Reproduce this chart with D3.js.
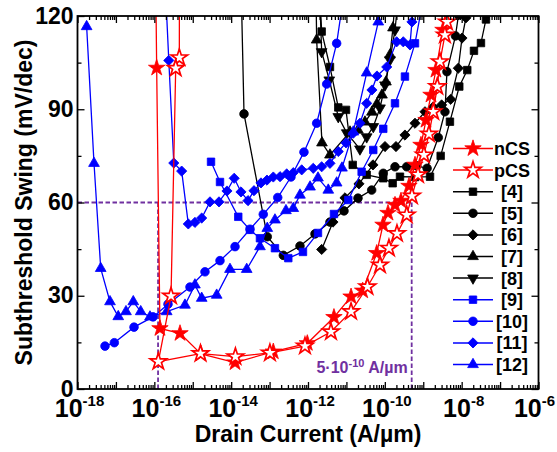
<!DOCTYPE html>
<html>
<head>
<meta charset="utf-8">
<script src="https://cdn.jsdelivr.net/npm/d3@7"></script>
<style>
  body { margin: 0; background: #fff; }
  text { font-family: "Liberation Sans", Arial, sans-serif; font-weight: bold; }
</style>
</head>
<body>
<div id="wrapper"></div>
<script>
// data: [drain current (A/um), subthreshold swing (mV/dec)]
const nCS = [[1.07e-16,140],[1.15e-16,103.3],[1.40e-16,19.5],[4.66e-16,17.9],[1.64e-15,11.3],[1.26e-14,8.5],[1.25e-13,12.0],[9.6e-13,14.7],[4.74e-12,23.1],[1.32e-11,29.7],[2.65e-11,31.6],[6.14e-11,43.7],[8.95e-11,52.8],[1.21e-10,56.6],[1.84e-10,59.2],[2.63e-10,60.5],[4.25e-10,65.3],[6.1e-10,72.1],[8.73e-10,78.5],[1.18e-9,86.5],[1.59e-9,94.6],[2.14e-9,102.6],[3.26e-9,115.5],[4.14e-9,125]]
const pCS = [[4.52e-16,140],[4.47e-16,106.6],[3.6e-16,103.2],[2.72e-16,29.9],[1.27e-16,8.8],[1.59e-15,11.4],[1.29e-14,10.4],[1.02e-13,11.6],[8.34e-13,13.8],[3.96e-12,18.4],[1.32e-11,24.9],[3.53e-11,32.9],[7.48e-11,39.9],[1.28e-10,45.3],[2.07e-10,50.0],[3.71e-10,56.0],[5.08e-10,62.1],[7.3e-10,68.9],[1.04e-9,75.3],[1.41e-9,82.0],[1.82e-9,89.2],[2.32e-9,97.3],[2.72e-9,105.3],[3.67e-9,113.9],[4.14e-9,118.1],[4.67e-9,125]]
const ref4 = [[2.05e-12,125],[2.27e-12,115.0],[3.73e-12,103.6],[6.14e-12,90.6],[9.75e-12,89.8],[1.46e-11,72.1],[3.37e-11,68.9],[9.1e-11,67.8],[1.6e-10,66.2],[2.48e-10,68.3],[6.1e-10,68.2],[1.5e-9,68.3],[2.84e-9,75.0],[4.95e-9,86.0],[8.67e-9,97.3],[1.4e-8,102.6],[2.09e-8,108.8],[3.18e-8,111.3],[4.29e-8,118.9],[5.14e-8,125]]
const ref5 = [[1.83e-14,128],[2.16e-14,88.5],[8.71e-14,49.0],[2.28e-13,43.0],[6.18e-13,46.0],[1.52e-12,49.9],[3.73e-12,53.7],[8.65e-12,57.3],[2.0e-11,61.4],[4.54e-11,64.0],[9.1e-11,69.4],[1.84e-10,71.5],[3.71e-10,71.5],[6.75e-10,71.8],[1.26e-9,71.0],[2.46e-9,80.9],[3.67e-9,89.2],[4.14e-9,102.1],[6.9e-9,113.6],[8.26e-9,120.3],[9.04e-9,125]]
const ref6 = [[2.27e-12,44.9],[4.47e-12,53.7],[9.18e-12,61.5],[2.12e-11,66.0],[4.91e-11,72.1],[1.01e-10,78.0],[1.95e-10,78.0],[3.34e-10,81.7],[6.1e-10,85.5],[1.11e-9,89.2],[1.79e-9,90.7],[3.01e-9,91.4],[5.18e-9,93.2],[8.17e-9,103.2],[1.02e-8,112.9],[1.29e-8,119.4],[1.46e-8,125]]
const ref7 = [[1.61e-12,128],[1.68e-12,112.3],[2.31e-12,79.2],[3.73e-12,75.3],[1.24e-11,82.7],[2.0e-11,83.3],[3.04e-11,85.9],[4.62e-11,89.1],[6.24e-11,91.7],[8.43e-11,94.6],[1.07e-10,98.8],[1.36e-10,107.5],[1.63e-10,116.2],[1.84e-10,125]]
const ref8 = [[1.99e-12,128],[2.27e-12,108.5],[3.58e-12,99.4],[6.14e-12,87.6],[1.02e-11,82.4],[2.25e-11,77.2],[3.37e-11,81.1],[5.0e-11,84.4],[7.48e-11,90.4],[1.01e-10,97.8],[1.36e-10,105.9],[1.84e-10,115.5],[2.2e-10,125]]
const ref9 = [[2.99e-15,73.1],[5.12e-15,66.6],[1.53e-14,55.4],[3.09e-14,51.2],[5.62e-14,48.5],[1.38e-13,45.3],[3.07e-13,42.1],[7.4e-13,44.1],[1.82e-12,50.2],[4.74e-12,56.3],[1.12e-11,60.8],[2.49e-11,69.9],[5.0e-11,76.9],[9.1e-11,83.7],[1.84e-10,91.9],[3.34e-10,100.5],[6.1e-10,111.2],[9.84e-10,125]]
const ref10 = [[5.2e-18,13.8],[9.08e-18,14.9],[2.96e-17,19.9],[9.23e-17,23.2],[2.27e-16,27.3],[8.47e-16,32.8],[2.08e-15,37.7],[5.12e-15,41.3],[1.26e-14,45.8],[3.09e-14,51.4],[6.85e-14,56.2],[1.63e-13,61.6],[3.6e-13,68.2],[7.85e-13,76.2],[1.68e-12,85.5],[3.06e-12,98.1],[5.57e-12,111.2],[8.13e-12,125]]
const ref11 = [[2.01e-16,125],[2.38e-16,105.7],[3.21e-16,72.7],[5.15e-16,70.1],[7.66e-16,53.1],[1.14e-15,53.6],[1.71e-15,55.0],[2.81e-15,60.2],[4.82e-15,60.2],[7.78e-15,63.7],[1.2e-14,67.8],[1.8e-14,63.4],[2.74e-14,60.6],[3.93e-14,63.8],[5.97e-14,66.3],[8.55e-14,67.2],[1.25e-13,68.2],[1.87e-13,68.3],[2.79e-13,69.2],[4.14e-13,69.6],[6.86e-13,70.5],[1.37e-12,71.0],[2.27e-12,71.5],[3.73e-12,72.6],[6.14e-12,76.4],[9.75e-12,79.2],[1.51e-11,82.3],[2.25e-11,85.5],[3.37e-11,91.9],[4.62e-11,96.2],[6.24e-11,100.7],[1.12e-10,103.6],[2.03e-10,111.7],[3.02e-10,111.7],[4.51e-10,110.7],[5.08e-10,118.1],[5.73e-10,125]]
const ref12 = [[1.73e-18,116.6],[2.69e-18,72.6],[4.02e-18,38.8],[7.01e-18,28.1],[1.15e-17,23.3],[1.83e-17,24.9],[2.83e-17,28.1],[4.42e-17,24.9],[7.71e-17,23.2],[2.1e-16,24.9],[6.28e-16,27.0],[1.14e-15,33.5],[1.71e-15,29.2],[4.2e-15,30.2],[9.31e-15,38.5],[2.54e-14,38.5],[5.62e-14,45.8],[8.71e-14,51.7],[1.38e-13,54.4],[2.67e-13,57.4],[4.14e-13,58.1],[6.18e-13,62.4],[1.13e-12,65.0],[1.82e-12,67.9],[3.37e-12,64.0],[5.57e-12,66.3],[7.66e-12,71.1],[1.51e-11,82.7],[3.37e-11,101.7],[6.75e-11,118.1],[7.94e-11,125]]

const xExponents = [-18, -16, -14, -12, -10, -8, -6]
const yTicks = [0, 30, 60, 90, 120]
const refCurrent = 5e-10     // right dashed marker
const leftDashCurrent = 1.25e-16
const refSwing = 60

// series styling, legend order
const series = [
  {name: "nCS",  data: nCS,  color: "#ff0000", shape: "star", open: false},
  {name: "pCS",  data: pCS,  color: "#ff0000", shape: "star", open: true},
  {name: "[4]",  data: ref4, color: "#000000", shape: "square"},
  {name: "[5]",  data: ref5, color: "#000000", shape: "circle"},
  {name: "[6]",  data: ref6, color: "#000000", shape: "diamond"},
  {name: "[7]",  data: ref7, color: "#000000", shape: "up"},
  {name: "[8]",  data: ref8, color: "#000000", shape: "down"},
  {name: "[9]",  data: ref9, color: "#0000ff", shape: "square"},
  {name: "[10]", data: ref10, color: "#0000ff", shape: "circle"},
  {name: "[11]", data: ref11, color: "#0000ff", shape: "diamond"},
  {name: "[12]", data: ref12, color: "#0000ff", shape: "up"},
]

const purple = "#7030a0"

let dimensions = {
  width: 557,
  height: 452,
  margin: {top: 16, right: 18.5, bottom: 63, left: 77.5},
}
dimensions.boundedWidth = dimensions.width - dimensions.margin.left - dimensions.margin.right
dimensions.boundedHeight = dimensions.height - dimensions.margin.top - dimensions.margin.bottom

const wrapper = d3.select("#wrapper")
  .append("svg")
    .attr("width", dimensions.width)
    .attr("height", dimensions.height)

const bounds = wrapper.append("g")
  .attr("transform", `translate(${dimensions.margin.left},${dimensions.margin.top})`)

const xScale = d3.scaleLog()
  .domain([1e-18, 1e-6])
  .range([0, dimensions.boundedWidth])

const yScale = d3.scaleLinear()
  .domain([0, 120])
  .range([dimensions.boundedHeight, 0])

bounds.append("clipPath").attr("id", "plot-clip")
  .append("rect")
    .attr("width", dimensions.boundedWidth)
    .attr("height", dimensions.boundedHeight)

// marker shapes
const symbolPath = (shape) => {
  if (shape === "star") return d3.symbol(d3.symbolStar, 84)()
  if (shape === "square") return d3.symbol(d3.symbolSquare, 56)()
  if (shape === "circle") return d3.symbol(d3.symbolCircle, 58)()
  if (shape === "diamond") return d3.symbol(d3.symbolSquare, 52)()
  return d3.symbol(d3.symbolTriangle, 50)()
}
const symbolRotate = (shape) => shape === "diamond" ? 45 : shape === "down" ? 180 : 0

const drawMarker = (sel, s) => sel
  .attr("d", symbolPath(s.shape))
  .attr("fill", s.open ? "#fff" : s.color)
  .attr("stroke", s.color)
  .attr("stroke-width", s.open ? 1.7 : 0.8)

// dashed reference lines
const dashes = bounds.append("g")
  .attr("stroke", purple)
  .attr("stroke-width", 1.8)
  .attr("stroke-dasharray", "4.5,2.5")
  .attr("fill", "none")
dashes.append("line")
  .attr("x1", 0).attr("x2", xScale(refCurrent))
  .attr("y1", yScale(refSwing)).attr("y2", yScale(refSwing))
dashes.append("line")
  .attr("x1", xScale(refCurrent)).attr("x2", xScale(refCurrent))
  .attr("y1", yScale(refSwing)).attr("y2", yScale(0))
dashes.append("line")
  .attr("x1", xScale(leftDashCurrent)).attr("x2", xScale(leftDashCurrent))
  .attr("y1", yScale(refSwing)).attr("y2", yScale(0))

// data
const lineGenerator = d3.line()
  .x(d => xScale(d[0]))
  .y(d => yScale(d[1]))

const plot = bounds.append("g").attr("clip-path", "url(#plot-clip)")
const drawOrder = [2, 3, 4, 5, 6, 7, 8, 9, 10, 0, 1]
drawOrder.forEach(i => {
  const s = series[i]
  const g = plot.append("g")
  g.append("path")
    .attr("d", lineGenerator(s.data))
    .attr("fill", "none")
    .attr("stroke", s.color)
    .attr("stroke-width", 1.3)
  g.selectAll("path.marker")
    .data(s.data)
    .enter().append("path")
      .attr("class", "marker")
      .attr("transform", d => `translate(${xScale(d[0])},${yScale(d[1])}) rotate(${symbolRotate(s.shape)})`)
      .call(sel => drawMarker(sel, s))
})

// annotation
const note = bounds.append("text")
  .attr("x", xScale(refCurrent) - 4)
  .attr("y", yScale(0) - 16)
  .attr("text-anchor", "end")
  .attr("fill", purple)
  .style("font-size", "16px")
note.append("tspan").text("5·10")
note.append("tspan").attr("dy", -6).style("font-size", "11px").text("-10")
note.append("tspan").attr("dy", 6).text(" A/µm")

// axes: inward ticks on all four sides
const decades = d3.range(-18, -5).map(e => Math.pow(10, e))
const minors = d3.range(-18, -6).flatMap(e => d3.range(2, 10).map(k => k * Math.pow(10, e)))
const yMinors = [15, 45, 75, 105]

const axisStyle = g => {
  g.select(".domain").remove()
  g.selectAll("line").attr("stroke", "#000").attr("stroke-width", 1.3)
  g.selectAll("text").remove()
}

bounds.append("g").attr("transform", `translate(0,${dimensions.boundedHeight})`)
  .call(d3.axisBottom(xScale).tickValues(decades).tickSize(-7)).call(axisStyle)
bounds.append("g").attr("transform", `translate(0,${dimensions.boundedHeight})`)
  .call(d3.axisBottom(xScale).tickValues(minors).tickSize(-4)).call(axisStyle)
bounds.append("g")
  .call(d3.axisTop(xScale).tickValues(decades).tickSize(-7)).call(axisStyle)
bounds.append("g")
  .call(d3.axisTop(xScale).tickValues(minors).tickSize(-4)).call(axisStyle)
bounds.append("g")
  .call(d3.axisLeft(yScale).tickValues(yTicks).tickSize(-7)).call(axisStyle)
bounds.append("g")
  .call(d3.axisLeft(yScale).tickValues(yMinors).tickSize(-4)).call(axisStyle)
bounds.append("g").attr("transform", `translate(${dimensions.boundedWidth},0)`)
  .call(d3.axisRight(yScale).tickValues(yTicks).tickSize(-7)).call(axisStyle)
bounds.append("g").attr("transform", `translate(${dimensions.boundedWidth},0)`)
  .call(d3.axisRight(yScale).tickValues(yMinors).tickSize(-4)).call(axisStyle)

bounds.append("rect")
  .attr("width", dimensions.boundedWidth)
  .attr("height", dimensions.boundedHeight)
  .attr("fill", "none")
  .attr("stroke", "#000")
  .attr("stroke-width", 1.8)

// tick labels (last one nudged so it stays inside the page)
xExponents.forEach(e => {
  const t = bounds.append("text")
    .attr("x", xScale(Math.pow(10, e)) + (e === -6 ? -4 : 2))
    .attr("y", dimensions.boundedHeight + 28)
    .attr("text-anchor", "middle")
    .style("font-size", "25px")
  t.append("tspan").text("10")
  t.append("tspan").attr("dy", -11).style("font-size", "15px").text(String(e))
})

bounds.selectAll(".ylabel")
  .data(yTicks)
  .enter().append("text")
    .attr("class", "ylabel")
    .attr("x", -4)
    .attr("y", d => yScale(d))
    .attr("dy", "0.33em")
    .attr("text-anchor", "end")
    .style("font-size", "23px")
    .text(d => d)

// axis titles
wrapper.append("text")
  .attr("x", dimensions.margin.left + dimensions.boundedWidth / 2)
  .attr("y", 442)
  .attr("text-anchor", "middle")
  .style("font-size", "23px")
  .text("Drain Current (A/µm)")

wrapper.append("text")
  .attr("transform", `translate(32,${dimensions.margin.top + dimensions.boundedHeight / 2}) rotate(-90)`)
  .attr("text-anchor", "middle")
  .style("font-size", "23px")
  .text("Subthreshold Swing (mV/dec)")

// legend
const legend = wrapper.append("g").attr("transform", "translate(453,148.5)")
series.forEach((s, i) => {
  const row = legend.append("g").attr("transform", `translate(0,${i * 21.6})`)
  row.append("line")
    .attr("x1", 0).attr("x2", 40)
    .attr("stroke", s.color)
    .attr("stroke-width", 1.5)
  row.append("path")
    .attr("transform", `translate(20,0) rotate(${symbolRotate(s.shape)})`)
    .call(sel => drawMarker(sel, s))
  row.append("text")
    .attr("x", 59)
    .attr("dy", "0.36em")
    .attr("text-anchor", "middle")
    .style("font-size", "18px")
    .text(s.name)
})
</script>
</body>
</html>
